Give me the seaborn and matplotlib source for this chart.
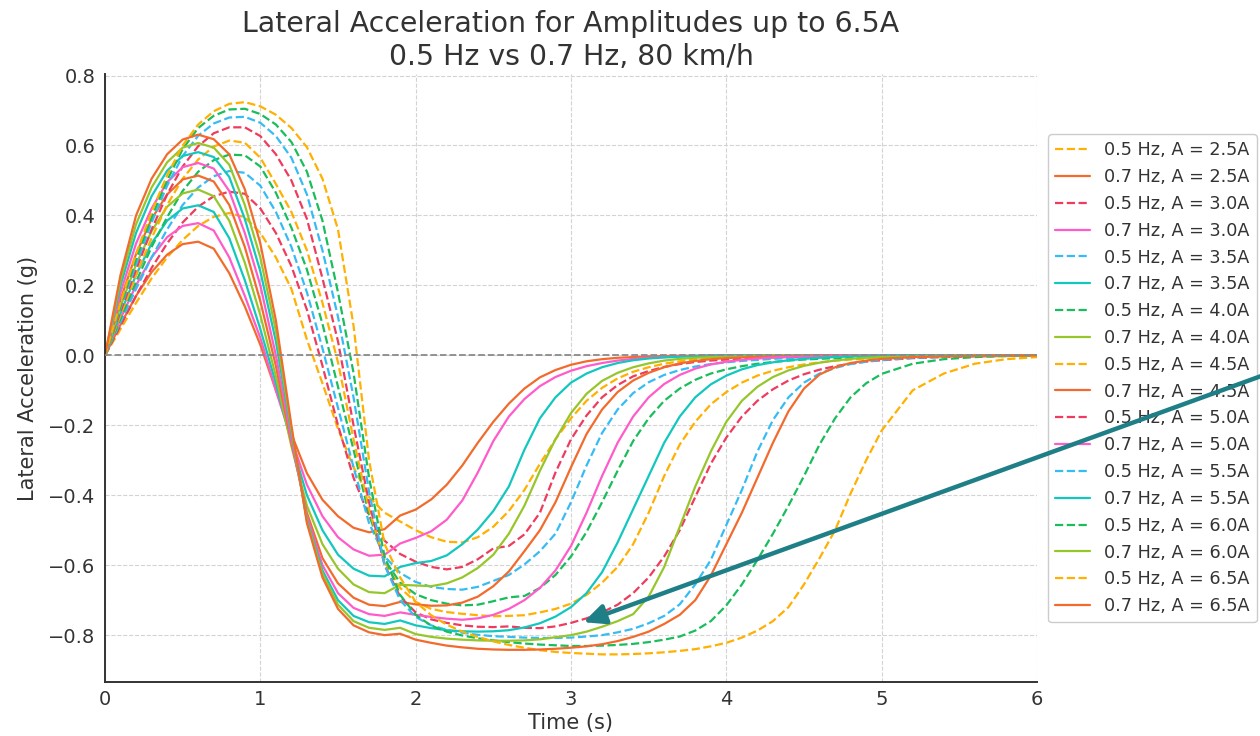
import matplotlib
matplotlib.use("Agg")
import matplotlib.pyplot as plt
import seaborn as sns

# ---------------- data ----------------
time_s = [0.0, 0.1, 0.2, 0.3, 0.4, 0.5, 0.6, 0.7, 0.8, 0.9,
          1.0, 1.1, 1.2, 1.3, 1.4, 1.5, 1.6, 1.7, 1.8, 1.9,
          2.0, 2.1, 2.2, 2.3, 2.4, 2.5, 2.6, 2.7, 2.8, 2.9,
          3.0, 3.1, 3.2, 3.3, 3.4, 3.5, 3.6, 3.7, 3.8, 3.9,
          4.0, 4.1, 4.2, 4.3, 4.4, 4.5, 4.6, 4.7, 4.8, 4.9,
          5.0, 5.2, 5.4, 5.6, 5.8, 6.0]

amplitudes = ["2.5A", "3.0A", "3.5A", "4.0A", "4.5A", "5.0A", "5.5A", "6.0A", "6.5A"]

# 0.5 Hz series
acc_05_2_5 = [0, 0.075, 0.15, 0.22, 0.28, 0.33, 0.37, 0.396, 0.407, 0.395,
              0.35, 0.28, 0.19, 0.045, -0.08, -0.21, -0.32, -0.405, -0.45, -0.475,
              -0.5, -0.52, -0.533, -0.535, -0.52, -0.49, -0.445, -0.385, -0.31, -0.24,
              -0.18, -0.13, -0.093, -0.066, -0.047, -0.034, -0.024, -0.017, -0.012, -0.008,
              -0.006, -0.004, -0.003, -0.002, -0.001, 0, 0, 0, 0, 0,
              0, 0, 0, 0, 0, 0]
acc_05_3_0 = [0, 0.085, 0.17, 0.25, 0.32, 0.38, 0.425, 0.455, 0.468, 0.462,
              0.42, 0.35, 0.255, 0.13, -0.03, -0.2, -0.35, -0.46, -0.53, -0.568,
              -0.59, -0.605, -0.612, -0.605, -0.583, -0.552, -0.545, -0.512, -0.45, -0.335,
              -0.24, -0.172, -0.12, -0.085, -0.06, -0.045, -0.033, -0.025, -0.019, -0.015,
              -0.012, -0.01, -0.008, -0.006, -0.005, -0.004, -0.003, -0.002, -0.002, -0.001,
              -0.001, 0, 0, 0, 0, 0]
acc_05_3_5 = [0, 0.095, 0.19, 0.28, 0.36, 0.43, 0.48, 0.512, 0.527, 0.522,
              0.485, 0.41, 0.31, 0.18, 0.02, -0.15, -0.32, -0.48, -0.575, -0.622,
              -0.648, -0.662, -0.668, -0.67, -0.662, -0.645, -0.628, -0.598, -0.56, -0.51,
              -0.42, -0.315, -0.222, -0.155, -0.108, -0.077, -0.056, -0.042, -0.032, -0.025,
              -0.02, -0.016, -0.013, -0.01, -0.008, -0.006, -0.005, -0.004, -0.003, -0.002,
              -0.002, -0.001, 0, 0, 0, 0]
acc_05_4_0 = [0, 0.105, 0.21, 0.31, 0.395, 0.47, 0.525, 0.558, 0.574, 0.572,
              0.54, 0.465, 0.365, 0.245, 0.09, -0.09, -0.27, -0.455, -0.585, -0.65,
              -0.683, -0.7, -0.71, -0.715, -0.713, -0.703, -0.692, -0.688, -0.665, -0.628,
              -0.575, -0.505, -0.42, -0.33, -0.245, -0.18, -0.13, -0.095, -0.07, -0.052,
              -0.04, -0.031, -0.024, -0.019, -0.015, -0.012, -0.01, -0.008, -0.006, -0.005,
              -0.004, -0.002, -0.001, 0, 0, 0]
acc_05_4_5 = [0, 0.115, 0.23, 0.335, 0.43, 0.505, 0.56, 0.597, 0.614, 0.608,
              0.565, 0.49, 0.41, 0.3, 0.15, -0.02, -0.24, -0.44, -0.59, -0.665,
              -0.705, -0.725, -0.734, -0.739, -0.743, -0.746, -0.745, -0.743, -0.735, -0.725,
              -0.71, -0.685, -0.65, -0.605, -0.54, -0.45, -0.345, -0.255, -0.19, -0.14,
              -0.105, -0.078, -0.058, -0.044, -0.034, -0.026, -0.02, -0.015, -0.012, -0.009,
              -0.007, -0.004, -0.002, -0.001, 0, 0]
acc_05_5_0 = [0, 0.125, 0.245, 0.36, 0.46, 0.54, 0.598, 0.635, 0.652, 0.652,
              0.627, 0.575, 0.5, 0.39, 0.22, 0.04, -0.2, -0.42, -0.6, -0.69,
              -0.735, -0.755, -0.765, -0.772, -0.776, -0.777, -0.775, -0.779, -0.78, -0.775,
              -0.765, -0.752, -0.735, -0.713, -0.68, -0.635, -0.575, -0.5, -0.405, -0.31,
              -0.235, -0.175, -0.13, -0.097, -0.072, -0.054, -0.041, -0.031, -0.024, -0.018,
              -0.014, -0.008, -0.005, -0.003, -0.002, -0.001]
acc_05_5_5 = [0, 0.135, 0.26, 0.38, 0.485, 0.57, 0.628, 0.663, 0.68, 0.682,
              0.665, 0.627, 0.565, 0.46, 0.3, 0.11, -0.12, -0.39, -0.6, -0.7,
              -0.748, -0.772, -0.785, -0.793, -0.799, -0.803, -0.805, -0.807, -0.808, -0.808,
              -0.807, -0.804, -0.8, -0.792, -0.782, -0.766, -0.745, -0.712, -0.655, -0.585,
              -0.485, -0.385, -0.275, -0.185, -0.12, -0.078, -0.052, -0.036, -0.025, -0.018,
              -0.013, -0.007, -0.004, -0.002, -0.001, 0]
acc_05_6_0 = [0, 0.14, 0.275, 0.395, 0.5, 0.59, 0.65, 0.685, 0.703, 0.705,
              0.69, 0.66, 0.61, 0.525, 0.385, 0.18, -0.05, -0.35, -0.575, -0.685,
              -0.742, -0.773, -0.79, -0.801, -0.809, -0.815, -0.82, -0.824, -0.827, -0.829,
              -0.831, -0.831, -0.83, -0.828, -0.825, -0.82, -0.813, -0.804, -0.787, -0.76,
              -0.715, -0.655, -0.585, -0.51, -0.43, -0.345, -0.255, -0.18, -0.12, -0.08,
              -0.053, -0.024, -0.011, -0.005, -0.002, -0.001]
acc_05_6_5 = [0, 0.15, 0.29, 0.41, 0.515, 0.6, 0.66, 0.698, 0.719, 0.724,
              0.712, 0.688, 0.65, 0.595, 0.505, 0.36, 0.085, -0.3, -0.54, -0.635,
              -0.705, -0.743, -0.77, -0.79, -0.805, -0.818, -0.828, -0.836, -0.843, -0.848,
              -0.851, -0.853, -0.855, -0.855, -0.854, -0.852, -0.849, -0.845, -0.84, -0.832,
              -0.822, -0.807, -0.787, -0.76, -0.72, -0.655, -0.58, -0.5, -0.395, -0.3,
              -0.215, -0.1, -0.052, -0.024, -0.011, -0.005]

# 0.7 Hz series
acc_07_2_5 = [0, 0.088, 0.17, 0.238, 0.288, 0.318, 0.325, 0.305, 0.235, 0.14,
              0.03, -0.1, -0.225, -0.337, -0.413, -0.46, -0.493, -0.506, -0.497, -0.458,
              -0.441, -0.412, -0.37, -0.315, -0.25, -0.19, -0.138, -0.095, -0.063, -0.042,
              -0.027, -0.017, -0.011, -0.007, -0.005, -0.003, -0.002, -0.001, -0.001, 0,
              0, 0, 0, 0, 0, 0, 0, 0, 0, 0,
              0, 0, 0, 0, 0, 0]
acc_07_3_0 = [0, 0.105, 0.2, 0.28, 0.338, 0.37, 0.378, 0.357, 0.28, 0.17,
              0.05, -0.1, -0.24, -0.37, -0.46, -0.52, -0.555, -0.573, -0.57, -0.538,
              -0.522, -0.503, -0.47, -0.415, -0.335, -0.245, -0.175, -0.125, -0.088, -0.062,
              -0.044, -0.031, -0.022, -0.015, -0.01, -0.007, -0.005, -0.003, -0.002, -0.001,
              0, 0, 0, 0, 0, 0, 0, 0, 0, 0,
              0, 0, 0, 0, 0, 0]
acc_07_3_5 = [0, 0.12, 0.23, 0.32, 0.385, 0.42, 0.429, 0.41, 0.335, 0.215,
              0.075, -0.08, -0.25, -0.4, -0.5, -0.57, -0.61, -0.63, -0.632, -0.605,
              -0.594, -0.588, -0.572, -0.54, -0.498, -0.445, -0.375, -0.27, -0.18, -0.12,
              -0.078, -0.052, -0.034, -0.022, -0.014, -0.009, -0.006, -0.004, -0.002, -0.001,
              0, 0, 0, 0, 0, 0, 0, 0, 0, 0,
              0, 0, 0, 0, 0, 0]
acc_07_4_0 = [0, 0.14, 0.26, 0.355, 0.425, 0.463, 0.474, 0.455, 0.385, 0.265,
              0.115, -0.06, -0.26, -0.43, -0.54, -0.61, -0.655, -0.677, -0.68, -0.656,
              -0.658, -0.66, -0.652, -0.635, -0.608, -0.57, -0.51, -0.43, -0.33, -0.24,
              -0.165, -0.11, -0.073, -0.05, -0.034, -0.023, -0.015, -0.01, -0.007, -0.005,
              -0.003, -0.002, -0.001, 0, 0, 0, 0, 0, 0, 0,
              0, 0, 0, 0, 0, 0]
acc_07_4_5 = [0, 0.16, 0.29, 0.39, 0.46, 0.503, 0.514, 0.497, 0.43, 0.31,
              0.155, -0.03, -0.25, -0.45, -0.58, -0.652, -0.693, -0.713, -0.717, -0.705,
              -0.712, -0.716, -0.715, -0.707, -0.69, -0.66, -0.618, -0.56, -0.5, -0.42,
              -0.32, -0.225, -0.155, -0.105, -0.072, -0.05, -0.034, -0.023, -0.016, -0.011,
              -0.008, -0.006, -0.004, -0.003, -0.002, -0.001, 0, 0, 0, 0,
              0, 0, 0, 0, 0, 0]
acc_07_5_0 = [0, 0.18, 0.32, 0.42, 0.495, 0.538, 0.55, 0.534, 0.47, 0.35,
              0.2, 0.0, -0.24, -0.46, -0.6, -0.68, -0.722, -0.74, -0.745, -0.735,
              -0.742, -0.748, -0.753, -0.756, -0.752, -0.742, -0.725, -0.7, -0.665, -0.615,
              -0.545, -0.45, -0.345, -0.25, -0.175, -0.12, -0.082, -0.056, -0.038, -0.026,
              -0.018, -0.013, -0.009, -0.006, -0.004, -0.003, -0.002, -0.001, 0, 0,
              0, 0, 0, 0, 0, 0]
acc_07_5_5 = [0, 0.2, 0.35, 0.455, 0.528, 0.57, 0.581, 0.567, 0.51, 0.39,
              0.24, 0.04, -0.22, -0.47, -0.615, -0.7, -0.745, -0.763, -0.768, -0.758,
              -0.772, -0.78, -0.786, -0.789, -0.79, -0.789, -0.786, -0.778, -0.766, -0.747,
              -0.72, -0.68, -0.62, -0.535, -0.44, -0.345, -0.25, -0.175, -0.12, -0.083,
              -0.058, -0.04, -0.028, -0.02, -0.014, -0.01, -0.007, -0.005, -0.003, -0.002,
              -0.001, 0, 0, 0, 0, 0]
acc_07_6_0 = [0, 0.215, 0.375, 0.48, 0.552, 0.594, 0.607, 0.594, 0.545, 0.43,
              0.28, 0.07, -0.21, -0.475, -0.625, -0.713, -0.76, -0.779, -0.785, -0.779,
              -0.797, -0.805, -0.81, -0.813, -0.815, -0.816, -0.816, -0.815, -0.812, -0.806,
              -0.8, -0.79, -0.776, -0.76, -0.74, -0.69, -0.605, -0.49, -0.375, -0.275,
              -0.19, -0.13, -0.09, -0.062, -0.043, -0.03, -0.021, -0.015, -0.01, -0.007,
              -0.005, -0.003, -0.001, 0, 0, 0]
acc_07_6_5 = [0, 0.23, 0.4, 0.505, 0.575, 0.617, 0.631, 0.618, 0.575, 0.475,
              0.32, 0.1, -0.2, -0.48, -0.635, -0.725, -0.772, -0.792, -0.8, -0.796,
              -0.813, -0.822, -0.83, -0.835, -0.839, -0.841, -0.842, -0.842, -0.841, -0.839,
              -0.836, -0.832, -0.826, -0.817, -0.805, -0.79, -0.768, -0.742, -0.7, -0.63,
              -0.54, -0.45, -0.35, -0.25, -0.16, -0.095, -0.055, -0.034, -0.022, -0.015,
              -0.01, -0.005, -0.003, -0.001, 0, 0]

series_05hz = [acc_05_2_5, acc_05_3_0, acc_05_3_5, acc_05_4_0, acc_05_4_5,
               acc_05_5_0, acc_05_5_5, acc_05_6_0, acc_05_6_5]
series_07hz = [acc_07_2_5, acc_07_3_0, acc_07_3_5, acc_07_4_0, acc_07_4_5,
               acc_07_5_0, acc_07_5_5, acc_07_6_0, acc_07_6_5]

palette = ["#FFB000", "#F26B2C", "#EE3B5E", "#FF5BC9",
           "#36BCF5", "#12C7BE", "#19BD5B", "#97C62B"]

# ---------------- styling ----------------
sns.set_style("white")
text_color = "#333333"
plt.rcParams.update({
    "font.family": ["DejaVu Sans"],
    "text.color": text_color,
    "axes.labelcolor": text_color,
    "xtick.color": text_color,
    "ytick.color": text_color,
})

fig = plt.figure(figsize=(12.6, 7.36), dpi=100)
ax = fig.add_axes([105 / 1260, 54 / 736, 932 / 1260, 607.5 / 736])

k = 0
for amp, v05, v07 in zip(amplitudes, series_05hz, series_07hz):
    sns.lineplot(x=time_s, y=v05, ax=ax, color=palette[k % 8], linestyle="--",
                 linewidth=1.6, label=f"0.5 Hz, A = {amp}", estimator=None)
    k += 1
    sns.lineplot(x=time_s, y=v07, ax=ax, color=palette[k % 8], linestyle="-",
                 linewidth=1.6, label=f"0.7 Hz, A = {amp}", estimator=None)
    k += 1

ax.axhline(0, color="#8a8a8a", linestyle="--", linewidth=1.3, zorder=3)

ax.set_xlim(0, 6)
ax.set_ylim(-0.934, 0.803)
ax.set_xticks([0, 1, 2, 3, 4, 5, 6])
ax.set_yticks([-0.8, -0.6, -0.4, -0.2, 0.0, 0.2, 0.4, 0.6, 0.8])
ax.grid(True, linestyle="--", color="#d3d3d3", linewidth=0.8)
ax.set_axisbelow(True)

for side in ["top", "right"]:
    ax.spines[side].set_visible(False)
for side in ["left", "bottom"]:
    ax.spines[side].set_color("#333333")
    ax.spines[side].set_linewidth(1.4)

ax.tick_params(axis="both", direction="in", length=5, width=1.1, labelsize=14,
               colors=text_color)
ax.tick_params(axis="y", pad=7)
ax.tick_params(axis="x", pad=6)

ax.set_title("Lateral Acceleration for Amplitudes up to 6.5A\n0.5 Hz vs 0.7 Hz, 80 km/h",
             fontsize=20.4, color=text_color, pad=7)
ax.set_xlabel("Time (s)", fontsize=15)
ax.set_ylabel("Lateral Acceleration (g)", fontsize=15)
ax.xaxis.set_label_coords(0.5, -0.051)
ax.yaxis.set_label_coords(-0.072, 0.5)

leg = ax.legend(loc="center left", bbox_to_anchor=(1.0118, 0.5), borderaxespad=0,
                fontsize=12.7, frameon=True, fancybox=True, framealpha=1,
                edgecolor="#cccccc")
leg.get_frame().set_linewidth(1.0)

ax.annotate("", xy=(3.08, -0.763), xycoords="data",
            xytext=(1275, 736 - 371), textcoords="figure pixels",
            arrowprops=dict(arrowstyle="-|>,head_length=0.65,head_width=0.3",
                            color="#1f7f86", lw=3.2, mutation_scale=20,
                            shrinkA=0, shrinkB=0),
            annotation_clip=False, zorder=10)

fig.savefig("out.png", dpi=100)
